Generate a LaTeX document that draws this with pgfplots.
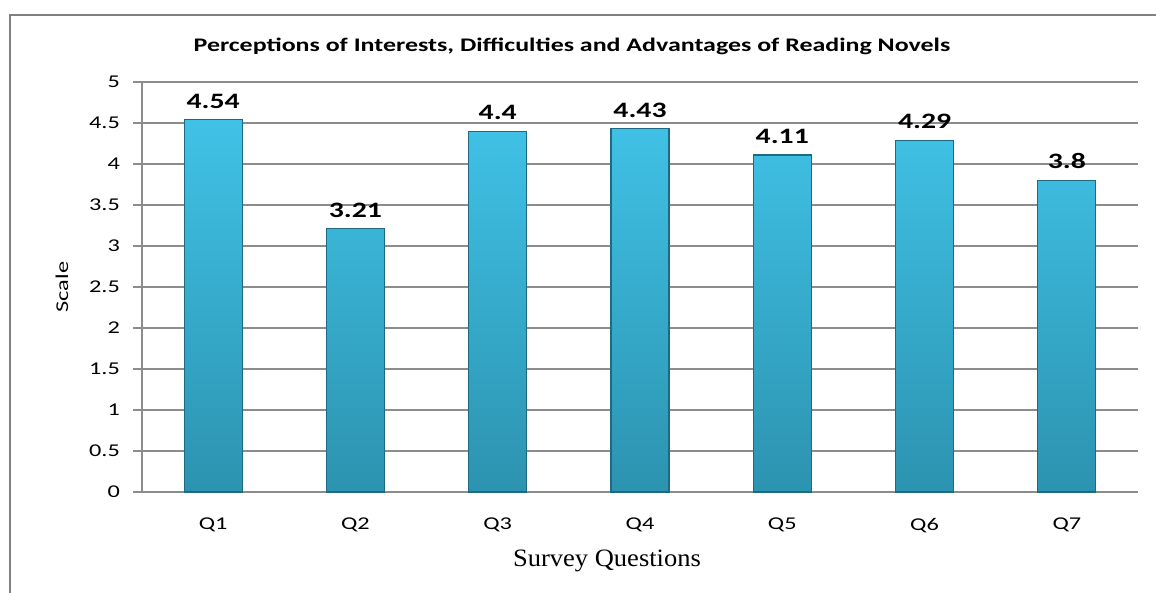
\documentclass[border=0pt]{standalone}
\usepackage{pgfplots}
\pgfplotsset{compat=1.18}
\usepackage{fontspec}
\setmainfont{Carlito}[FakeStretch=1.35]
\newfontfamily\plainfont{Carlito}
\newfontfamily\timesfont{Liberation Serif}[FakeStretch=1.06]
\definecolor{gridgray}{HTML}{8C8C8C}
\definecolor{framegray}{HTML}{808080}
\definecolor{bartop}{HTML}{40C2E6}
\definecolor{barbot}{HTML}{2C93B0}
\definecolor{baredge}{HTML}{1E6A82}
\begin{document}
\begin{tikzpicture}
% canvas 1156 x 593 px, 1px = 0.5pt, origin bottom-left
\useasboundingbox (0pt,0pt) rectangle (578pt,296.5pt);
\draw[framegray, line width=1.2pt] (5pt,0pt) -- (5pt,289pt) -- (578pt,289pt);
\node[font=\bfseries\fontsize{9.6}{12}\selectfont] at (286pt,273.5pt) {Perceptions of Interests, Difficulties and Advantages of Reading Novels};
\node[font=\timesfont\fontsize{12.5}{14}\selectfont] at (303.5pt,16pt) {Survey Questions};
\node[font=\plainfont\fontsize{9}{10}\selectfont, rotate=90, xscale=1.35] at (31pt,153pt) {Scale};
\begin{axis}[
  at={(71pt,50.5pt)}, anchor=south west,
  scale only axis, width=498pt, height=205pt,
  xmin=-0.5, xmax=6.5, ymin=0, ymax=5,
  xtick={0,1,2,3,4,5,6},
  xticklabels={Q1,Q2,Q3,Q4,Q5,Q6,Q7},
  ytick={0,0.5,1,1.5,2,2.5,3,3.5,4,4.5,5},
  yticklabels={0,0.5,1,1.5,2,2.5,3,3.5,4,4.5,5},
  axis x line*=bottom, axis y line*=left,
  axis line style={gridgray, line width=0.6pt, -},
  ymajorgrids, grid style={gridgray, line width=0.6pt},
  major tick length=4.5pt,
  xtick style={draw=none},
  ytick style={gridgray, line width=0.6pt},
  tick align=outside,
  yticklabel style={font=\fontsize{9}{10}\selectfont, xshift=-3pt},
  xticklabel style={font=\fontsize{9}{10}\selectfont, yshift=-5pt},
  /pgf/number format/assume math mode=true,
  clip=false,
]
\addplot[ybar, bar width=29pt, shading=axis, top color=bartop, bottom color=barbot, draw=baredge, line width=0.6pt,
  nodes near coords, nodes near coords style={font=\bfseries\fontsize{11}{12}\selectfont, black, yshift=2pt},
  point meta=explicit symbolic]
coordinates {(0,4.54)[4.54] (1,3.21)[3.21] (2,4.4)[4.4] (3,4.43)[4.43] (4,4.11)[4.11] (5,4.29)[4.29] (6,3.8)[3.8]};
\end{axis}
\end{tikzpicture}
\end{document}
